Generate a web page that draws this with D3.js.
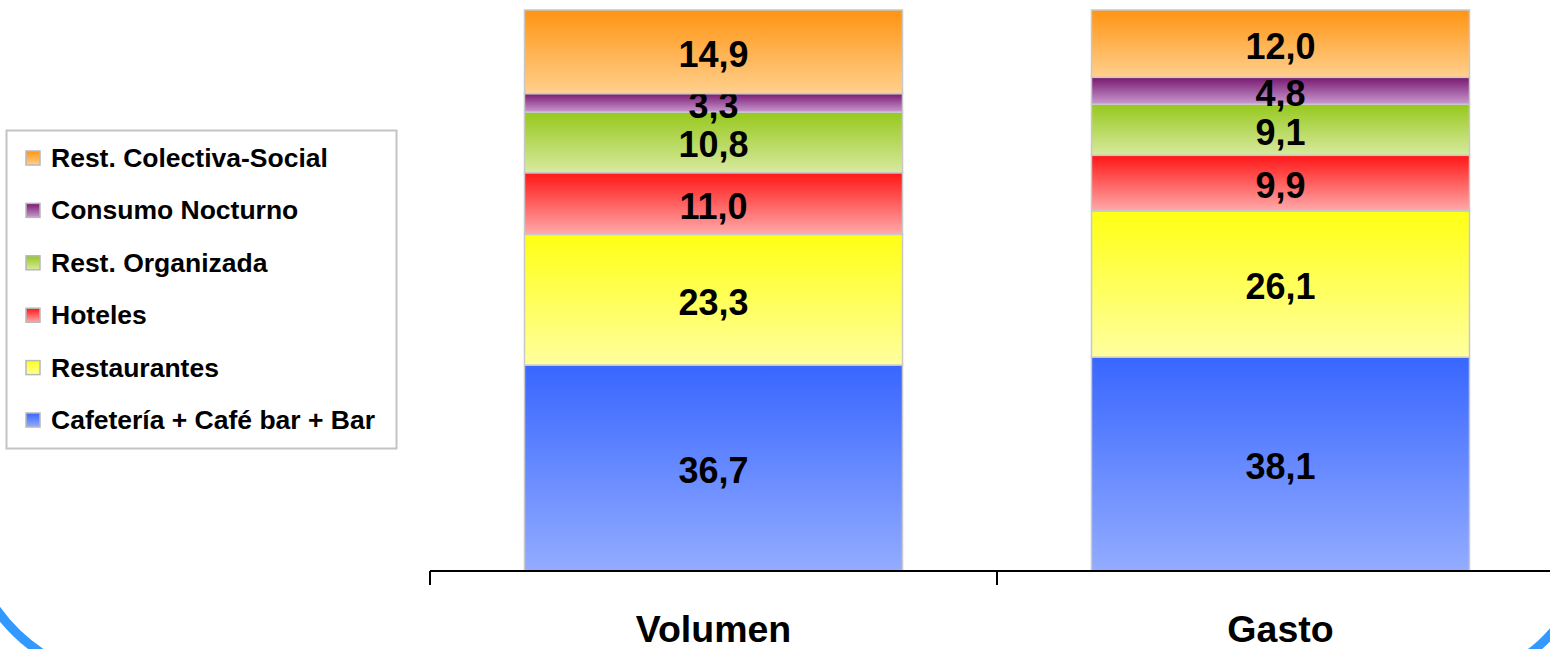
<!DOCTYPE html>
<html>
<head>
<meta charset="utf-8">
<script src="https://cdn.jsdelivr.net/npm/d3@7"></script>
<style>
  body { margin: 0; background: #fff; }
  text { font-family: "Liberation Sans", Arial, sans-serif; font-weight: bold; }
</style>
</head>
<body>
<script>
// data
var categories = ["Volumen", "Gasto"];
var seriesNames = ["Cafetería + Café bar + Bar", "Restaurantes", "Hoteles",
                   "Rest. Organizada", "Consumo Nocturno", "Rest. Colectiva-Social"];
var volumen = [36.7, 23.3, 11.0, 10.8, 3.3, 14.9];
var gasto   = [38.1, 26.1, 9.9, 9.1, 4.8, 12.0];
var topColors    = ["#3866ff", "#ffff14", "#ff1616", "#96c81c", "#781870", "#ff9412"];
var bottomColors = ["#93acff", "#ffffa0", "#ffaaaa", "#d8eaa0", "#c99ad0", "#ffd08e"];

var width = 1550, height = 649;

var svg = d3.select("body").append("svg")
  .attr("width", width)
  .attr("height", height);

var defs = svg.append("defs");
seriesNames.forEach(function(s, i) {
  var g = defs.append("linearGradient")
    .attr("id", "grad" + i)
    .attr("x1", 0).attr("y1", 0).attr("x2", 0).attr("y2", 1);
  g.append("stop").attr("offset", "0%").attr("stop-color", topColors[i]);
  g.append("stop").attr("offset", "100%").attr("stop-color", bottomColors[i]);
});

var x = d3.scaleBand()
  .domain(categories)
  .range([430, 1564])
  .paddingInner(1 / 3)
  .paddingOuter(1 / 6);

var y = d3.scaleLinear()
  .domain([0, 100])
  .range([571, 10]);

// build the stack rows
var rows = categories.map(function(c, ci) {
  var vals = ci === 0 ? volumen : gasto;
  var row = { cat: c };
  seriesNames.forEach(function(s, i) { row[s] = vals[i]; });
  return row;
});

var stacked = d3.stack().keys(seriesNames)(rows);

var layers = svg.selectAll("g.layer")
  .data(stacked)
  .enter()
  .append("g")
  .attr("class", "layer")
  .attr("fill", function(d, i) { return "url(#grad" + i + ")"; });

layers.selectAll("rect")
  .data(function(d) { return d; })
  .enter()
  .append("rect")
  .attr("x", function(d) { return x(d.data.cat); })
  .attr("width", x.bandwidth())
  .attr("y", function(d) { return y(d[1]); })
  .attr("height", function(d) { return y(d[0]) - y(d[1]); })
  .attr("stroke", "#c8c8c8")
  .attr("stroke-width", 1.5);

// value labels
layers.each(function(layer) {
  d3.select(this).selectAll("text")
    .data(layer)
    .enter()
    .append("text")
    .attr("x", function(d) { return x(d.data.cat) + x.bandwidth() / 2; })
    .attr("y", function(d) { return (y(d[0]) + y(d[1])) / 2 + 15; })
    .attr("text-anchor", "middle")
    .attr("font-size", "36px")
    .attr("fill", "#000")
    .text(function(d) { return d3.format(".1f")(d[1] - d[0]).replace(".", ","); });
});

// category axis
var axis = svg.append("g")
  .attr("transform", "translate(0,571)");
axis.append("line")
  .attr("x1", 430).attr("x2", width)
  .attr("y1", 0).attr("y2", 0)
  .attr("stroke", "#000").attr("stroke-width", 2);
var tickPos = [430, 430 + x.step()];
axis.selectAll("line.tick")
  .data(tickPos)
  .enter()
  .append("line")
  .attr("class", "tick")
  .attr("x1", function(d) { return d; })
  .attr("x2", function(d) { return d; })
  .attr("y1", 0).attr("y2", 14)
  .attr("stroke", "#000").attr("stroke-width", 2);
axis.selectAll("text")
  .data(categories)
  .enter()
  .append("text")
  .attr("x", function(d) { return x(d) + x.bandwidth() / 2; })
  .attr("y", 71)
  .attr("text-anchor", "middle")
  .attr("font-size", "37.5px")
  .attr("fill", "#000")
  .text(function(d) { return d; });

// legend
var legend = svg.append("g");
legend.append("rect")
  .attr("x", 6.5).attr("y", 130.5)
  .attr("width", 390).attr("height", 318)
  .attr("fill", "#fff")
  .attr("stroke", "#c4c4c4")
  .attr("stroke-width", 2);

var legendOrder = seriesNames.map(function(s, i) { return i; }).reverse();
var items = legend.selectAll("g.item")
  .data(legendOrder)
  .enter()
  .append("g")
  .attr("class", "item")
  .attr("transform", function(d, k) { return "translate(0," + (158 + k * 52.4) + ")"; });
items.append("rect")
  .attr("x", 26).attr("y", -7)
  .attr("width", 14).attr("height", 14)
  .attr("fill", function(d) { return "url(#grad" + d + ")"; })
  .attr("stroke", "#b8b8b8")
  .attr("stroke-width", 1.5);
items.append("text")
  .attr("x", 51)
  .attr("y", 9)
  .attr("font-size", "26.5px")
  .attr("fill", "#000")
  .text(function(d) { return seriesNames[d]; });

// blue slide frame corners
svg.append("path")
  .attr("d", "M -6,606 Q 14,636 46,656")
  .attr("fill", "none")
  .attr("stroke", "#3399ff")
  .attr("stroke-width", 9);
svg.append("path")
  .attr("d", "M 1556,628 Q 1542,645 1526,656")
  .attr("fill", "none")
  .attr("stroke", "#3399ff")
  .attr("stroke-width", 9);
</script>
</body>
</html>
